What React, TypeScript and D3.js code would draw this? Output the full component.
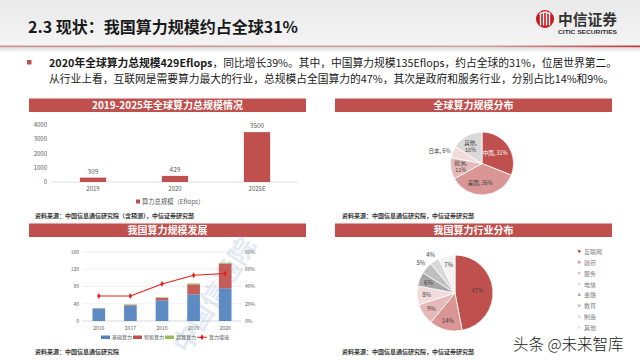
import React from 'react';
import * as d3 from 'd3';

const FONT = "'Noto Sans CJK SC', 'Liberation Sans', sans-serif";
const RED = '#c0504d';

// 2019-2025 global compute
const globalYears = ['2019', '2020', '2025E'];
const globalTotals = [309, 429, 3500];
const globalTicks = [0, 1000, 2000, 3000, 4000];

// global distribution
const regionNames = ['中国', '美国', '欧洲', '日本', '其他'];
const regionShares = [31, 36, 11, 6, 16];
const regionColors = ['#c0504d', '#d99694', '#e6b9b8', '#f2dcdb', '#d9d9d9'];

// china compute development
const cnYears = ['2016', '2017', '2018', '2019', '2020'];
const basicPower = [29, 36, 48, 62, 76];
const aiPower = [0.5, 1.5, 5.5, 23, 57];
const superPower = [0.5, 1, 1.5, 2, 2];
const growthRate = [29, 29, 43, 53, 55];
const cnTicks = [0, 40, 80, 120, 160];
const rateTicks = [0, 20, 40, 60, 80];
const cnSeries = ['基础算力', '智能算力', '超算算力'];
const cnColors = ['#4f81bd', '#c0504d', '#9bbb59'];

// industry distribution
const industryNames = ['互联网', '政府', '服务', '电信', '金融', '教育', '制造', '其他'];
const industryShares = [47, 14, 9, 8, 6, 5, 4, 7];
const industryColors = ['#c0504d', '#d99694', '#e6b9b8', '#f2dcdb', '#a6a6a6', '#bfbfbf', '#d9d9d9', '#f2f2f2'];

function Header() {
  return (
    <g>
      <defs>
        <linearGradient id="hdrBg" x1="0" y1="0" x2="0" y2="1">
          <stop offset="0" stopColor="#e9e9e9" />
          <stop offset="1" stopColor="#f4f4f4" />
        </linearGradient>
        <linearGradient id="hdrLine" x1="0" y1="0" x2="1" y2="0">
          <stop offset="0" stopColor="#c79393" />
          <stop offset="0.75" stopColor="#cfa5a5" />
          <stop offset="1" stopColor="#c0393b" />
        </linearGradient>
        <linearGradient id="hdrShadow" x1="0" y1="0" x2="0" y2="1">
          <stop offset="0" stopColor="#dedede" />
          <stop offset="1" stopColor="#ffffff" />
        </linearGradient>
      </defs>
      <rect x={0} y={0} width={640} height={46} fill="url(#hdrBg)" />
      <rect x={0} y={45.5} width={640} height={2} fill="url(#hdrLine)" />
      <rect x={0} y={47.5} width={640} height={5} fill="url(#hdrShadow)" />
      <text x={28} y={33} fontSize={16} fontWeight="bold" fill="#1a1a1a" fontFamily={FONT}>
        2.3 现状：我国算力规模约占全球31%
      </text>
      {/* logo */}
      <circle cx={545} cy={19} r={9} fill="#c8161d" />
      {[-4.5, -1.5, 1.5, 4.5].map((dx, i) => (
        <rect key={i} x={545 + dx - 0.7} y={12.5} width={1.4} height={13} fill="#fff" />
      ))}
      <path d="M539.5,14.5 Q545,9.5 550.5,14.5" fill="none" stroke="#fff" strokeWidth={1.2} />
      <text x={558} y={25} fontSize={14.5} fontWeight="bold" fill="#333" fontFamily={FONT}
        textLength={59} lengthAdjust="spacingAndGlyphs">中信证券</text>
      <text x={558} y={34.3} fontSize={5} fontWeight="bold" fill="#333" fontFamily="'Liberation Sans', sans-serif"
        textLength={59} lengthAdjust="spacingAndGlyphs">CITIC SECURITIES</text>
    </g>
  );
}

function Bullets() {
  return (
    <g fontFamily={FONT} fill="#1a1a1a" fontSize={10.8}>
      <rect x={27} y={60} width={4.5} height={4.5} fill={RED} />
      <text x={49} y={67} textLength={568} lengthAdjust="spacingAndGlyphs">
        <tspan fontWeight="bold">2020年全球算力总规模429Eflops</tspan>
        <tspan>，同比增长39%。其中，中国算力规模135Eflops，约占全球的31%，位居世界第二。</tspan>
      </text>
      <text x={49} y={83} textLength={565} lengthAdjust="spacingAndGlyphs">
        从行业上看，互联网是需要算力最大的行业，总规模占全国算力的47%，其次是政府和服务行业，分别占比14%和9%。
      </text>
    </g>
  );
}

function PanelTitle({x, y, w, label}: {x: number; y: number; w: number; label: string}) {
  return (
    <g>
      <rect x={x} y={y} width={w} height={13.5} fill={RED} />
      <text x={x + w / 2} y={y + 10.3} textAnchor="middle" fontSize={10} fontWeight="bold" fill="#fff" fontFamily={FONT}>
        {label}
      </text>
    </g>
  );
}

function Source({x, y, label}: {x: number; y: number; label: string}) {
  return (
    <text x={x} y={y} fontSize={6} fontWeight="bold" fill="#333" fontFamily={FONT}>{label}</text>
  );
}

function GlobalBars() {
  const x = d3.scaleBand().domain(globalYears).range([52, 298]).paddingInner(0.68).paddingOuter(0.34);
  const y = d3.scaleLinear().domain([0, 4000]).range([182, 125]);
  return (
    <g fontFamily={FONT}>
      {globalTicks.map(t => (
        <text key={t} x={47} y={y(t) + 2.2} textAnchor="end" fontSize={6} fill="#595959">{t}</text>
      ))}
      <line x1={52} x2={298} y1={y(0)} y2={y(0)} stroke="#d9d9d9" strokeWidth={0.8} />
      {globalYears.map((c, i) => (
        <g key={c}>
          <rect x={x(c)} y={y(globalTotals[i])} width={x.bandwidth()} height={y(0) - y(globalTotals[i])} fill={RED} />
          <text x={x(c)! + x.bandwidth() / 2} y={y(globalTotals[i]) - 4} textAnchor="middle" fontSize={6.5} fill="#595959">
            {globalTotals[i]}
          </text>
          <text x={x(c)! + x.bandwidth() / 2} y={191} textAnchor="middle" fontSize={6} fill="#595959">{c}</text>
        </g>
      ))}
      <rect x={136} y={199.5} width={4} height={4} fill={RED} />
      <text x={142} y={204} fontSize={6.3} fill="#595959">算力总规模（Eflops）</text>
    </g>
  );
}

function WorldPie() {
  const cx = 482, cy = 163.5, r = 31.5;
  const arcs = d3.pie<number>().sort(null)(regionShares);
  const arc = d3.arc<d3.PieArcDatum<number>>().innerRadius(0).outerRadius(r);
  const inner = d3.arc<d3.PieArcDatum<number>>().innerRadius(r * 0.62).outerRadius(r * 0.62);
  const outer = d3.arc<d3.PieArcDatum<number>>().innerRadius(r * 1.45).outerRadius(r * 1.45);
  return (
    <g transform={`translate(${cx},${cy})`} fontFamily={FONT}>
      {arcs.map((a, i) => (
        <path key={i} d={arc(a)!} fill={regionColors[i]} stroke="#fff" strokeWidth={0.8} />
      ))}
      {arcs.map((a, i) => {
        const name = regionNames[i];
        const pct = `${regionShares[i]}%`;
        const fill = i === 0 ? '#fff' : '#404040';
        if (name === '日本') {
          const [lx, ly] = outer.centroid(a);
          return <text key={i} x={lx} y={ly + 6} textAnchor="middle" fontSize={5.5} fill="#404040">{`${name}, ${pct}`}</text>;
        }
        const [lx, ly] = inner.centroid(a);
        if (name === '欧洲' || name === '其他') {
          return (
            <g key={i}>
              <text x={lx - 2} y={ly - 1.5} textAnchor="middle" fontSize={5.5} fill={fill}>{`${name},`}</text>
              <text x={lx - 2} y={ly + 5.5} textAnchor="middle" fontSize={5.5} fill={fill}>{pct}</text>
            </g>
          );
        }
        return <text key={i} x={lx - 3} y={ly + 2} textAnchor="middle" fontSize={5.5} fill={fill}>{`${name}, ${pct}`}</text>;
      })}
    </g>
  );
}

function ChinaBars() {
  const x = d3.scaleBand().domain(cnYears).range([83, 241]).paddingInner(0.6).paddingOuter(0.3);
  const y = d3.scaleLinear().domain([0, 160]).range([321, 252]);
  const yr = d3.scaleLinear().domain([0, 80]).range([321, 252]);
  const rows = cnYears.map((c, i) => ({year: c, basic: basicPower[i], ai: aiPower[i], sup: superPower[i]}));
  const stack = d3.stack<any>().keys(['basic', 'ai', 'sup'])(rows);
  const cxOf = (c: string) => x(c)! + x.bandwidth() / 2;
  const line = d3.line<number>().x((_, i) => cxOf(cnYears[i])).y(d => yr(d));
  const diamond = d3.symbol().type(d3.symbolDiamond).size(10)()!;
  return (
    <g fontFamily={FONT}>
      {cnTicks.map(t => (
        <g key={t}>
          <line x1={83} x2={241} y1={y(t)} y2={y(t)} stroke={t === 0 ? '#bfbfbf' : '#e6e6e6'} strokeWidth={0.6} />
          <text x={79} y={y(t) + 1.8} textAnchor="end" fontSize={5} fill="#595959">{t}</text>
        </g>
      ))}
      {rateTicks.map(t => (
        <text key={t} x={245} y={yr(t) + 1.8} fontSize={5} fill="#595959">{`${t}%`}</text>
      ))}
      {/* faint diagonal watermark */}
      <text x={0} y={0} transform="translate(222,300) rotate(-58)" textAnchor="middle" fontSize={26} fontWeight="bold"
        fill="#a9bcdc" opacity={0.3}>中国信通院</text>
      {stack.map((s, k) => (
        <g key={k}>
          {s.map((d, i) => (
            <rect key={i} x={x(cnYears[i])} y={y(d[1])} width={x.bandwidth()} height={y(d[0]) - y(d[1])} fill={cnColors[k]} opacity={0.92} />
          ))}
        </g>
      ))}
      <path d={line(growthRate)!} fill="none" stroke="#e3201b" strokeWidth={1.1} />
      {growthRate.map((g, i) => (
        <path key={i} d={diamond} transform={`translate(${cxOf(cnYears[i])},${yr(g)})`} fill="#e3201b" />
      ))}
      {cnYears.map(c => (
        <text key={c} x={cxOf(c)} y={329.5} textAnchor="middle" fontSize={5} fill="#595959">{c}</text>
      ))}
      {/* legend */}
      {cnSeries.map((s, i) => (
        <g key={s}>
          <rect x={101 + i * 32} y={335.5} width={9} height={3.5} fill={cnColors[i]} />
          <text x={112 + i * 32} y={339.2} fontSize={5} fill="#595959">{s}</text>
        </g>
      ))}
      <line x1={197} x2={207} y1={337.3} y2={337.3} stroke="#e3201b" strokeWidth={1} />
      <path d={diamond} transform="translate(202,337.3)" fill="#e3201b" />
      <text x={209} y={339.2} fontSize={5} fill="#595959">算力增速</text>
    </g>
  );
}

function IndustryPie() {
  const cx = 455, cy = 293, r = 38;
  const arcs = d3.pie<number>().sort(null)(industryShares);
  const arc = d3.arc<d3.PieArcDatum<number>>().innerRadius(0).outerRadius(r);
  const inner = d3.arc<d3.PieArcDatum<number>>().innerRadius(r * 0.75).outerRadius(r * 0.75);
  const mid = d3.arc<d3.PieArcDatum<number>>().innerRadius(r * 0.6).outerRadius(r * 0.6);
  const outer = d3.arc<d3.PieArcDatum<number>>().innerRadius(r * 1.2).outerRadius(r * 1.2);
  return (
    <g fontFamily={FONT}>
      <g transform={`translate(${cx},${cy})`}>
        {arcs.map((a, i) => (
          <path key={i} d={arc(a)!} fill={industryColors[i]} stroke="#fff" strokeWidth={0.8} />
        ))}
        {arcs.map((a, i) => {
          const pos = i === 0 ? mid : industryShares[i] <= 5 ? outer : inner;
          const [lx, ly] = pos.centroid(a);
          return <text key={i} x={lx} y={ly + 2} textAnchor="middle" fontSize={6} fill="#404040">{`${industryShares[i]}%`}</text>;
        })}
      </g>
      {industryNames.map((n, i) => (
        <g key={n}>
          <rect x={578} y={250 + i * 10.9} width={2.5} height={2.5} fill={industryColors[i] === '#f2f2f2' ? '#e6e6e6' : industryColors[i]} />
          <text x={584} y={253.8 + i * 10.9} fontSize={6} fill="#7f7f7f">{n}</text>
        </g>
      ))}
    </g>
  );
}

export default function App() {
  return (
    <svg width={640} height={360} viewBox="0 0 640 360"
      style={{position: 'absolute', left: 0, top: 0, background: '#fff'}}>
      <rect x={0} y={0} width={640} height={360} fill="#fff" />
      <Header />
      <Bullets />

      <PanelTitle x={29} y={98.5} w={277} label="2019-2025年全球算力总规模情况" />
      <GlobalBars />
      <Source x={35} y={218} label="资料来源：中国信息通信研究院（含预测），中信证券研究部" />

      <PanelTitle x={335} y={98.5} w={277} label="全球算力规模分布" />
      <WorldPie />
      <Source x={342} y={218} label="资料来源：中国信息通信研究院，中信证券研究部" />

      <line x1={29} x2={306} y1={223} y2={223} stroke="#f0f0f0" strokeWidth={0.8} />
      <line x1={335} x2={612} y1={223} y2={223} stroke="#f0f0f0" strokeWidth={0.8} />

      <PanelTitle x={29} y={223.5} w={277} label="我国算力规模发展" />
      <ChinaBars />
      <Source x={35} y={354} label="资料来源：中国信息通信研究院" />

      <PanelTitle x={335} y={223.5} w={277} label="我国算力行业分布" />
      <IndustryPie />
      <Source x={342} y={354} label="资料来源：中国信息通信研究院，中信证券研究部" />

      <text x={513} y={350} fontSize={15.5} fontWeight={300} fill="#1a1a1a" fontFamily={FONT}
        stroke="#fff" strokeWidth={2} paintOrder="stroke">头条 @未来智库</text>
    </svg>
  );
}
